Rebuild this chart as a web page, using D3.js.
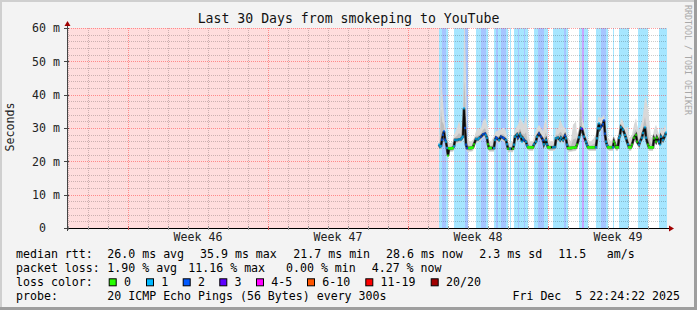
<!DOCTYPE html>
<html><head><meta charset="utf-8">
<script src="https://cdn.jsdelivr.net/npm/d3@7"></script>
<style>
html,body{margin:0;padding:0;background:#f3f3f3;}
svg{display:block;}
text{font-family:"DejaVu Sans Mono",monospace;}
</style></head><body>
<svg id="c" width="697" height="310"></svg>
<script>
// ---------------- data ----------------
const title = "Last 30 Days from smokeping to YouTube";
const yTickValues = [0, 10, 20, 30, 40, 50, 60];
const weekLabels = ["Week 46", "Week 47", "Week 48", "Week 49"];
const weekStartDay = [3.05, 10.05, 17.05, 24.05];   // days since graph start
const dataStartDay = 18.6;

// median rtt keyframes (days since start, ms) and upper smoke (ms)
const rttDay = [18.60,18.65,18.70,18.75,18.80,18.85,18.90,18.95,19.00,19.05,19.10,19.20,19.30,19.35,19.40,19.50,19.60,19.70,19.75,19.80,
  19.85,19.90,19.95,20.00,20.10,20.20,20.30,20.35,20.45,20.55,20.60,20.70,20.80,20.90,20.95,21.00,21.05,21.10,21.20,21.35,
  21.40,21.45,21.50,21.60,21.70,21.80,21.85,21.95,22.00,22.05,22.15,22.30,22.35,22.40,22.50,22.55,22.65,22.70,22.75,22.80,
  22.85,22.95,23.00,23.05,23.15,23.30,23.35,23.45,23.50,23.60,23.70,23.80,23.85,23.95,24.00,24.05,24.15,24.30,24.40,24.45,
  24.55,24.65,24.70,24.80,24.90,24.95,25.00,25.05,25.20,25.30,25.45,25.50,25.60,25.70,25.75,25.85,25.95,26.00,26.05,26.20,
  26.35,26.45,26.50,26.55,26.60,26.65,26.70,26.80,26.85,26.90,26.95,27.00,27.05,27.20,27.30,27.35,27.40,27.45,27.55,27.60,
  27.65,27.70,27.80,27.90,27.95,28.05,28.10,28.20,28.25,28.35,28.45,28.50,28.60,28.65,28.75,28.80,28.90,28.95,29.05,29.10,
  29.20,29.30,29.35,29.45,29.50,29.60,29.65,29.70,29.80,29.90,29.95];
const rttMs = [25.0,24.4,24.6,26.5,28.0,29.0,26.5,25.9,24.0,21.7,23.9,23.9,24.0,24.5,26.4,26.4,26.6,26.6,27.1,27.4,
  35.9,30.0,25.0,24.0,24.0,24.0,24.2,25.1,26.7,26.6,27.0,27.4,28.1,28.3,27.8,27.0,25.1,24.0,24.0,24.0,
  26.4,27.1,26.9,26.4,27.4,27.1,26.9,26.4,25.1,23.8,23.8,23.8,25.0,27.4,28.0,27.1,28.1,27.4,25.9,26.9,
  26.4,25.9,24.8,24.2,24.2,24.2,25.1,25.9,27.4,28.3,27.4,26.4,25.1,26.4,25.1,24.2,24.2,24.2,24.3,26.9,
  27.1,26.4,27.1,26.4,27.7,26.9,25.0,24.0,24.0,24.1,24.2,25.0,27.2,29.9,29.7,27.4,25.9,25.0,24.2,24.2,
  24.2,24.2,26.9,29.9,31.4,29.9,30.4,31.1,32.3,28.3,25.9,24.9,24.2,24.2,24.2,25.9,25.1,24.2,24.2,27.0,
  27.7,30.2,29.5,27.9,26.9,25.1,24.2,24.2,25.0,27.1,27.9,25.9,25.0,25.9,27.1,28.5,30.2,27.1,25.0,24.2,
  24.2,24.2,26.9,25.9,27.1,25.9,25.0,27.4,26.4,27.7,28.6];
const smokeHiMs = [27,30,56,42,38,34,31,29,27,26,25.5,25.5,26,28,28.5,30,32,30,30,33,
  60,60,45,28,26,26,26.5,27,29,30,29.5,30,32,33,32,31,30,26.5,26,27.5,
  28.5,29,29,29.5,29.5,30,30,29,27.5,26,25.5,26,28,29.5,30.5,31,33,32.5,32,31.5,
  31,34,31,29,26,26,27.5,29,30,31,30,29,31,33,30,27,26,26,27,30,
  29.5,33,32,30.5,30,29.5,28,27,26,31,32,28,30,60,33,31,28,27,26,26,
  27,28.5,30,33,33.5,33,33,33.5,34,32,30,28,27,26,27,27.5,27,26,27,30,
  31,33,32,30,30,30.5,27,27.5,28,31,33,31,29,30,32,34,39,39,36,33,
  27,28,29.5,31,30,28,28.5,30,29,31,30];

// packet-loss background bands (start day, pings lost of 20); each ends where the next begins
const lossStart = [18.60,18.75,18.95,19.05,19.35,19.90,20.05,20.45,20.70,20.95,21.05,21.35,21.45,21.55,21.70,21.95,22.05,22.15,22.20,22.35,
  22.55,22.60,22.85,22.90,23.05,23.35,23.55,23.85,24.05,24.30,24.85,24.95,25.05,25.60,25.75,25.85,26.05,26.45,26.70,26.95,
  27.05,27.30,27.35,27.60,28.10,28.55,29.05,29.60];
const lossLevel = [1,2,1,0,1,2,0,1,2,1,0,1,2,1,2,1,0,1,0,1,
  2,1,2,1,0,1,2,1,0,1,2,1,0,1,3,1,0,1,2,1,
  0,1,0,1,0,1,0,1];

const lossLegend = ["0","1","2","3","4-5","6-10","11-19","20/20"];
const lossColors = ["#26ff00","#00b8ff","#0059ff","#5e00ff","#ff00ff","#ff5500","#ff0000","#a10000"];

const rttRow = ["median rtt:","26.0 ms avg","35.9 ms max","21.7 ms min","28.6 ms now","2.3 ms sd","11.5","am/s"];
const lossRow = ["packet loss:","1.90 % avg","11.16 % max","0.00 % min","4.27 % now"];
const probeRow = ["probe:","20 ICMP Echo Pings (56 Bytes) every 300s"];
const dateText = "Fri Dec  5 22:24:22 2025";
const watermark = "RRDTOOL / TOBI OETIKER";

// ---------------- layout ----------------
const W = 697, H = 310, L = 67, R = 667, T = 28, B = 228;
const FS = "11.6px";
const svg = d3.select("#c");
const x = d3.scaleLinear().domain([0, 30]).range([L, R]);
const y = d3.scaleLinear().domain([0, 60]).range([B, T]);
const px = v => Math.round(v) + 0.5;

// canvas + 3D frame
svg.append("rect").attr("width", W).attr("height", H).attr("fill", "#f3f3f3");
svg.append("rect").attr("width", W).attr("height", 2).attr("fill", "#cfcfcf");
svg.append("rect").attr("width", 2).attr("height", H).attr("fill", "#cfcfcf");
svg.append("rect").attr("y", H - 3).attr("width", W).attr("height", 3).attr("fill", "#9e9e9e");
svg.append("rect").attr("x", W - 3).attr("width", 3).attr("height", H).attr("fill", "#9e9e9e");

// plot background
svg.append("rect").attr("x", L).attr("y", T).attr("width", R - L).attr("height", B - T).attr("fill", "#ffffff");
svg.append("rect").attr("x", L).attr("y", T).attr("width", x(dataStartDay) - L).attr("height", B - T).attr("fill", "#ffdddd");

// loss bands
const bandColor = l => d3.interpolateRgb("#ffffff", lossColors[l])(0.35);
svg.append("g").selectAll("rect").data(lossStart).join("rect")
  .attr("x", d => x(d))
  .attr("width", (d, i) => x(i + 1 < lossStart.length ? lossStart[i + 1] : 30) - x(d))
  .attr("y", T).attr("height", B - T)
  .attr("fill", (d, i) => lossLevel[i] === 0 ? "#ffffff" : bandColor(lossLevel[i]));

// grid
const grid = svg.append("g");
const dayLines = d3.range(0.05, 30, 1);
const isMajorDay = d => weekStartDay.some(w => Math.abs(w - d) < 1e-6);
grid.selectAll(".vmin").data(dayLines.filter(d => !isMajorDay(d))).join("line")
  .attr("x1", d => px(x(d))).attr("x2", d => px(x(d))).attr("y1", T).attr("y2", B)
  .attr("stroke", "rgba(0,0,0,0.2)").attr("stroke-dasharray", "1,1");
const minorY = d3.range(2, 60, 2).filter(v => v % 10 !== 0);
grid.selectAll(".hmin").data(minorY).join("line")
  .attr("x1", L).attr("x2", R).attr("y1", d => px(y(d))).attr("y2", d => px(y(d)))
  .attr("stroke", "rgba(0,0,0,0.2)").attr("stroke-dasharray", "1,1");
grid.selectAll(".vmaj").data(weekStartDay).join("line")
  .attr("x1", d => px(x(d))).attr("x2", d => px(x(d))).attr("y1", T).attr("y2", B)
  .attr("stroke", "rgba(255,0,0,0.38)").attr("stroke-dasharray", "1,1");
grid.selectAll(".hmaj").data(yTickValues.filter(v => v > 0)).join("line")
  .attr("x1", L).attr("x2", R).attr("y1", d => px(y(d))).attr("y2", d => px(y(d)))
  .attr("stroke", "rgba(255,0,0,0.38)").attr("stroke-dasharray", "1,1");

// smoke
const pts = rttDay.map((d, i) => ({ d, m: rttMs[i], hi: smokeHiMs[i] }));
const clipId = "plotclip";
svg.append("clipPath").attr("id", clipId).append("rect").attr("x", L).attr("y", T).attr("width", R - L).attr("height", B - T);
const gData = svg.append("g").attr("clip-path", `url(#${clipId})`);
gData.append("path").datum(pts)
  .attr("d", d3.area().x(p => x(p.d)).y0(p => y(p.m - 1.1)).y1(p => y(p.hi)))
  .attr("fill", "#d8d8d8");
gData.append("path").datum(pts)
  .attr("d", d3.area().x(p => x(p.d)).y0(p => y(p.m - 0.8)).y1(p => y(p.m + (p.hi - p.m) * 0.35)))
  .attr("fill", "#bdbdbd");
gData.append("path").datum(pts)
  .attr("d", d3.line().x(p => x(p.d)).y(p => y(p.m)))
  .attr("fill", "none").attr("stroke", "#555").attr("stroke-width", 2.8);
gData.append("path").datum(pts)
  .attr("d", d3.line().x(p => x(p.d)).y(p => y(p.m)))
  .attr("fill", "none").attr("stroke", "#0a0a0a").attr("stroke-width", 1.5);

// median coloured by loss
const lossAt = d => {
  let l = 0;
  for (let i = 0; i < lossStart.length; i++) if (d >= lossStart[i] - 1e-9) l = lossLevel[i];
  return l;
};
pts.forEach(p => p.l = lossAt(p.d));
const segs = [];
for (let i = 0; i + 1 < pts.length; i++) {
  const a = pts[i], b = pts[i + 1];
  if (a.l === 0 && b.l === 0 && Math.abs(a.m - b.m) < 0.6) segs.push([a, b]);
}
gData.append("g").selectAll("line").data(segs).join("line")
  .attr("x1", s => x(s[0].d) - 0.5).attr("x2", s => x(s[1].d) + 0.5)
  .attr("y1", s => y(s[0].m)).attr("y2", s => y(s[1].m))
  .attr("stroke", s => lossColors[s[0].l]).attr("stroke-width", 2.4);
gData.append("g").selectAll("rect").data(pts).join("rect")
  .attr("x", p => x(p.d) - 0.7).attr("width", 1.4)
  .attr("y", p => y(p.m) - 1.2).attr("height", 2.4)
  .attr("fill", p => lossColors[p.l]);

// axes
const ax = svg.append("g");
ax.append("line").attr("x1", L - 3).attr("x2", R + 4).attr("y1", B + 0.5).attr("y2", B + 0.5).attr("stroke", "#000");
ax.append("line").attr("x1", L + 0.5).attr("x2", L + 0.5).attr("y1", B + 3).attr("y2", T - 4).attr("stroke", "#444");
ax.append("path").attr("d", `M${R + 2},${B - 2.5}L${R + 7},${B + 0.5}L${R + 2},${B + 3.5}Z`).attr("fill", "#a00000");
ax.append("path").attr("d", `M${L - 2.5},${T - 2}L${L + 0.5},${T - 7}L${L + 3.5},${T - 2}Z`).attr("fill", "#a00000");
ax.selectAll(".xt").data(dayLines).join("line")
  .attr("x1", d => px(x(d))).attr("x2", d => px(x(d))).attr("y1", B - 2).attr("y2", B + 2)
  .attr("stroke", d => isMajorDay(d) ? "#d06060" : "#999");
ax.selectAll(".yt").data(yTickValues).join("line")
  .attr("x1", L - 3).attr("x2", L + 2).attr("y1", d => px(y(d))).attr("y2", d => px(y(d)))
  .attr("stroke", "#444");

// axis labels
svg.append("g").selectAll("text").data(yTickValues).join("text")
  .attr("x", d => d === 0 ? 46 : 60).attr("y", d => y(d) + 4.3)
  .attr("text-anchor", "end").attr("font-size", FS).attr("fill", "#222")
  .text(d => d === 0 ? "0" : d + " m");
svg.append("g").selectAll("text").data(weekLabels).join("text")
  .attr("x", (d, i) => x(weekStartDay[i] + 3.5)).attr("y", 241)
  .attr("text-anchor", "middle").attr("font-size", FS).attr("fill", "#222")
  .text(d => d);
svg.append("text").attr("transform", "translate(14,127) rotate(-90)")
  .attr("text-anchor", "middle").attr("font-size", FS).attr("fill", "#222").text("Seconds");
svg.append("text").attr("x", 348.5).attr("y", 23.3).attr("text-anchor", "middle")
  .attr("font-size", "13.2px").attr("fill", "#111").text(title);
svg.append("text").attr("transform", "translate(684.5,5) rotate(90)")
  .attr("font-size", "8.3px").attr("fill", "#a8a8a8").text(watermark);

// legend
const rowX1 = [16, 107.3, 200, 293.3, 386, 479.3, 558.3, 606.7];
const rowX2 = [16, 107.3, 188.3, 286, 371.7];
const leg = svg.append("g").attr("font-size", FS).attr("fill", "#000");
leg.selectAll(".r1").data(rttRow).join("text").attr("x", (d, i) => rowX1[i]).attr("y", 258.3).text(d => d);
leg.selectAll(".r2").data(lossRow).join("text").attr("x", (d, i) => rowX2[i]).attr("y", 272.3).text(d => d);
leg.append("text").attr("x", 16).attr("y", 286.3).text("loss color:");
const boxX = [108.7, 146, 182.7, 219.3, 256, 307, 365.3, 430.7];
leg.selectAll(".lb").data(lossLegend).join("rect")
  .attr("x", (d, i) => boxX[i] + 0.5).attr("y", 278.8).attr("width", 7).attr("height", 7)
  .attr("fill", (d, i) => lossColors[i]).attr("stroke", "#000").attr("stroke-width", 1);
leg.selectAll(".lt").data(lossLegend).join("text")
  .attr("x", (d, i) => boxX[i] + 15.3).attr("y", 286.3).text(d => d);
leg.selectAll(".r4").data(probeRow).join("text").attr("x", (d, i) => i === 0 ? 16 : 107.3).attr("y", 300.3).text(d => d);
leg.append("text").attr("x", 680).attr("y", 300.3).attr("text-anchor", "end").style("white-space", "pre").text(dateText);
</script>
</body></html>
